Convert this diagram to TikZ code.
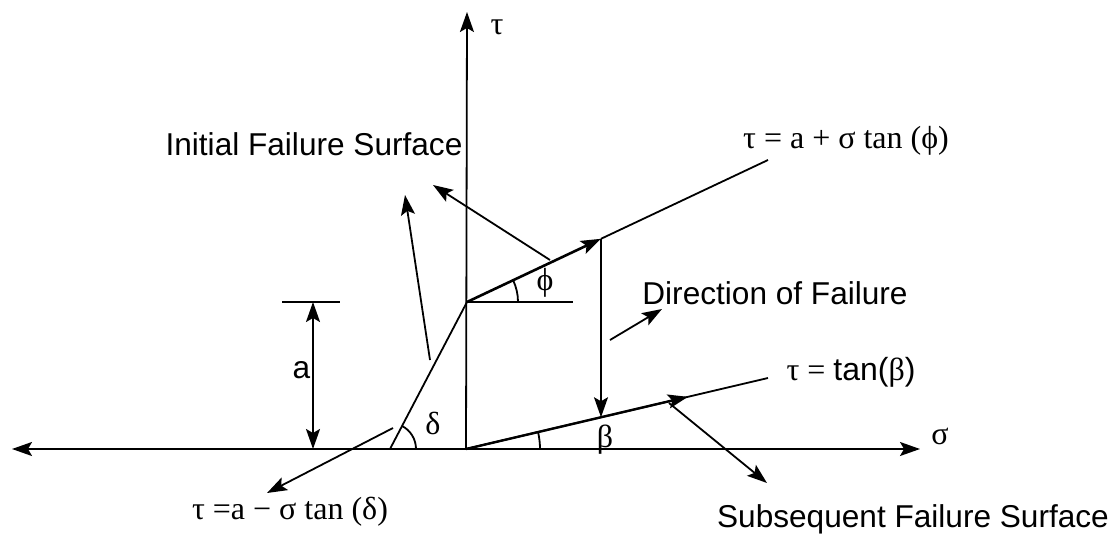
\documentclass[tikz,border=0pt]{standalone}
\usepackage{fontspec}
\setmainfont{Liberation Serif}
\setsansfont{Liberation Sans}
\usetikzlibrary{arrows.meta, calc}

\begin{document}
\begin{tikzpicture}[
    x=0.5pt, y=-0.5pt,
    line width=0.9pt,
    arr/.style={-{Stealth[length=10pt, width=7pt, inset=2pt]}},
    darr/.style={{Stealth[length=10pt, width=7pt, inset=2pt]}-{Stealth[length=10pt, width=7pt, inset=2pt]}},
    word/.style={font=\sffamily\fontsize{15.8}{18}\selectfont, inner sep=0pt},
    eqn/.style={font=\fontsize{16}{18}\selectfont, inner sep=0pt},
]
\useasboundingbox (0,0) rectangle (1119,535);

% Points of the failure envelope
\coordinate (origin) at (466,449);
\coordinate (kink) at (467,302);
\coordinate (deltafoot) at (390,449);
\coordinate (phiend) at (768,160);
\coordinate (betaend) at (768,378);
\coordinate (phiref) at (573,302);
\coordinate (phitop) at ($(kink)!0.445!(phiend)$);
\coordinate (betafoot) at ($(origin)!0.447!(betaend)$);
\coordinate (betamid) at ($(origin)!0.735!(betaend)$);

% Axes
\coordinate (sigmaleft) at (12,449);
\coordinate (sigmaright) at (920,449);
\coordinate (tautop) at (467,12);
\draw[darr] (sigmaleft) -- (sigmaright);
\draw[arr] (origin) -- (tautop);
\node[eqn] (taulabel) at (497,27) {τ};
\node[eqn] (sigmalabel) at (940,436) {σ};

% Envelope lines
\draw (deltafoot) -- (kink);
\draw[arr, line width=1.3pt] (kink) -- (phitop);
\draw (phitop) -- (phiend);
\draw (kink) -- (phiref);
\draw (origin) -- (betaend);
\draw[arr, line width=1.2pt] (origin) -- (betamid);
\draw[arr] (phitop) -- (betafoot);

% Angles
\draw (deltafoot) ++(26,0) arc[start angle=0, end angle=-62.4, radius=26];
\draw (kink) ++(51,0) arc[start angle=0, end angle=-25.3, radius=51];
\draw (origin) ++(74,0) arc[start angle=0, end angle=-13.2, radius=74];
\node[eqn] (deltalabel) at (433,423) {δ};
\node[eqn] (philabel) at (545,283) {ϕ};
\node[eqn] (betalabel) at (605,440) {β};

% Intercept a
\coordinate (atickl) at (282,302);
\coordinate (atickr) at (340,302);
\coordinate (atop) at (313,302);
\coordinate (abot) at (313,449);
\draw (atickl) -- (atickr);
\draw[darr] (atop) -- (abot);
\node[word, anchor=east] (alabel) at (311,370) {a};

% Labels
\node[word] (initial) at (314,144) {Initial Failure Surface};
\node[word] (direction) at (775,293) {Direction of Failure};
\node[word] (subsequent) at (913,519) {Subsequent Failure Surface};
\node[eqn] (phieq) at (846,141) {τ = a + σ tan (ϕ)};
\node[eqn] (betaeq) at (851,372) {τ = \textsf{tan(}β\textsf{)}};
\node[eqn] (deltaeq) at (290,512) {τ =a − σ tan (δ)};

% Pointers
\coordinate (inia) at (430,360);
\coordinate (iniatip) at (405,195);
\coordinate (inib) at (550,260);
\coordinate (inibtip) at (433,185);
\coordinate (dirfrom) at (610,340);
\coordinate (dirtip) at (662,309);
\coordinate (subfrom) at (669,403);
\coordinate (subtip) at (767,483);
\coordinate (delfrom) at (393,428);
\coordinate (deltip) at (267,493);
\draw[arr] (inia) -- (iniatip);
\draw[arr] (inib) -- (inibtip);
\draw[arr] (dirfrom) -- (dirtip);
\draw[arr] (subfrom) -- (subtip);
\draw[arr] (delfrom) -- (deltip);

\end{tikzpicture}
\end{document}
